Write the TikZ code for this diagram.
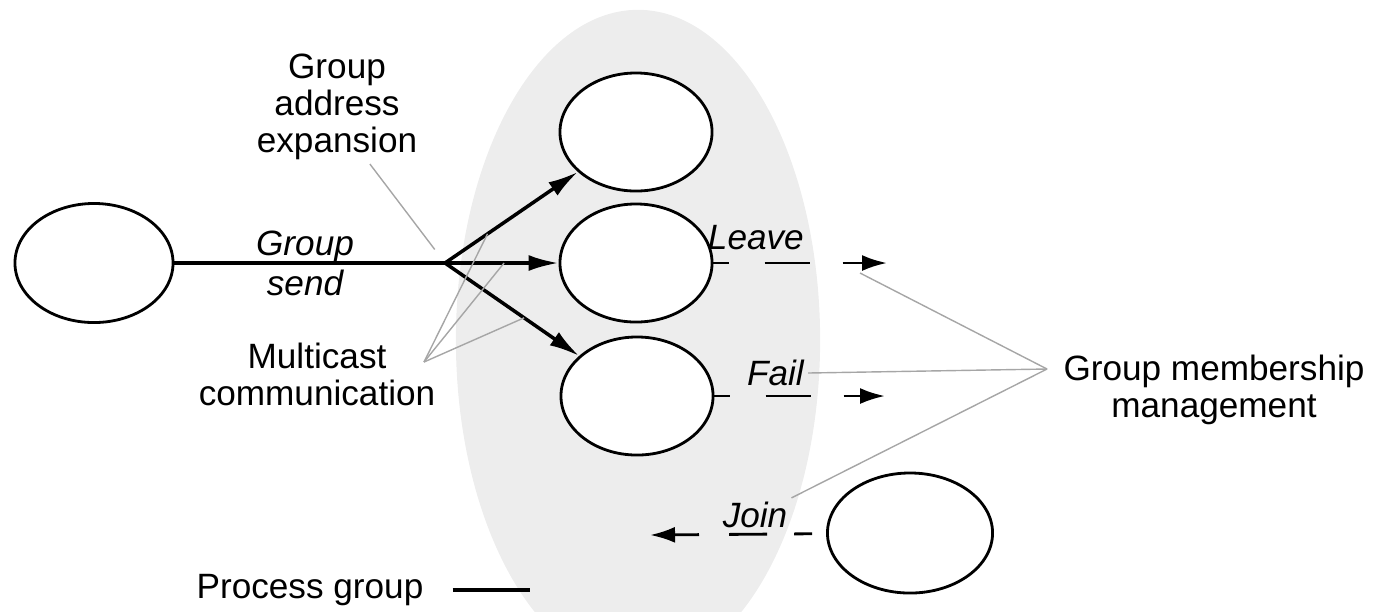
\documentclass[tikz,border=0pt]{standalone}
\usepackage{fontspec}
\setmainfont{Liberation Sans}
\usetikzlibrary{shapes.geometric, arrows.meta, positioning}

\begin{document}
\begin{tikzpicture}[
    x=0.01cm, y=-0.01cm,
    proc/.style={ellipse, draw, line width=0.8pt, fill=white, minimum width=1.52cm, minimum height=1.18cm, inner sep=0pt},
    lbl/.style={align=center, inner sep=1pt, font=\fontsize{10}{10.5}\selectfont},
    ilbl/.style={lbl, font=\fontsize{10}{11.4}\selectfont\itshape},
    send/.style={line width=1pt},
    sendarrow/.style={-{Latex[length=3mm, width=1.6mm]}, line width=1pt},
    memberarrow/.style={-{Latex[length=2.5mm, width=1.6mm]}, line width=0.8pt,
        dash pattern=on 0.16cm off 0.35cm on 0.45cm off 0.33cm on 0.46cm},
    leader/.style={gray!70, line width=0.4pt}
]
\clip (0,0) rectangle (1377,611);
% the process group
\node[ellipse, fill=black!7, minimum width=3.64cm, minimum height=6.6cm] (group) at (638,340) {};

\node[proc, minimum width=1.58cm, minimum height=1.19cm] (sender) at (94,263) {};
\node[proc] (top) at (636,132) {};
\node[proc] (mid) at (636,263) {};
\node[proc] (bot) at (637,396) {};
\node[proc, minimum width=1.65cm, minimum height=1.2cm] (newbie) at (910,533) {};

% group send
\coordinate (hub) at (445,263);
\draw[send] (sender) -- (hub);
\draw[sendarrow] (hub) -- coordinate[pos=0.32] (mtop) (top);
\draw[sendarrow] (hub) -- coordinate[pos=0.52] (mmid) (mid);
\draw[sendarrow] (hub) -- coordinate[pos=0.59] (mbot) (bot);

\node[lbl] (gae) at (337,107) {Group\\address\\expansion};
\node[ilbl] (gsend) at (305,263) {Group\\send};
\node[lbl] (mc) at (317,374) {Multicast\\communication};
\node[lbl] (gmm) at (1214,390) {Group membership\\management};
\node[lbl] (pg) at (310,590) {Process group};

% membership changes
\node[ilbl, anchor=east] (leave) at (808,238) {Leave};
\node[ilbl, anchor=east] (fail) at (808,373) {Fail};
\node[ilbl] (joinlbl) at (755,515) {Join};
\coordinate (leaveend) at (887,263);
\coordinate (failend) at (885,396);
\coordinate (joinend) at (650,535);
\draw[memberarrow] (mid) -- (leaveend);
\draw[memberarrow] (bot) -- (failend);
\draw[memberarrow, shorten <=0.14cm, dash pattern=on 0.18cm off 0.27cm on 0.38cm off 0.30cm on 0.5cm] (newbie) -- (joinend);

% leaders
\coordinate (mcfan) at (424,362);
\coordinate (gmfan) at (1047,369);
\coordinate (leavetip) at (860,273);
\coordinate (pgend) at (530,590);
\draw[leader, shorten >=0.17cm] (gae.-60) -- (hub);
\draw[leader] (mcfan) -- (mtop);
\draw[leader] (mcfan) -- (mmid);
\draw[leader] (mcfan) -- (mbot);
\draw[leader] (gmfan) -- (leavetip);
\draw[leader] (gmfan) -- (fail.east);
\draw[leader] (gmfan) -- (joinlbl.north east);
\draw[send] ([xshift=0.25cm]pg.east) -- (pgend);
\end{tikzpicture}
\end{document}
